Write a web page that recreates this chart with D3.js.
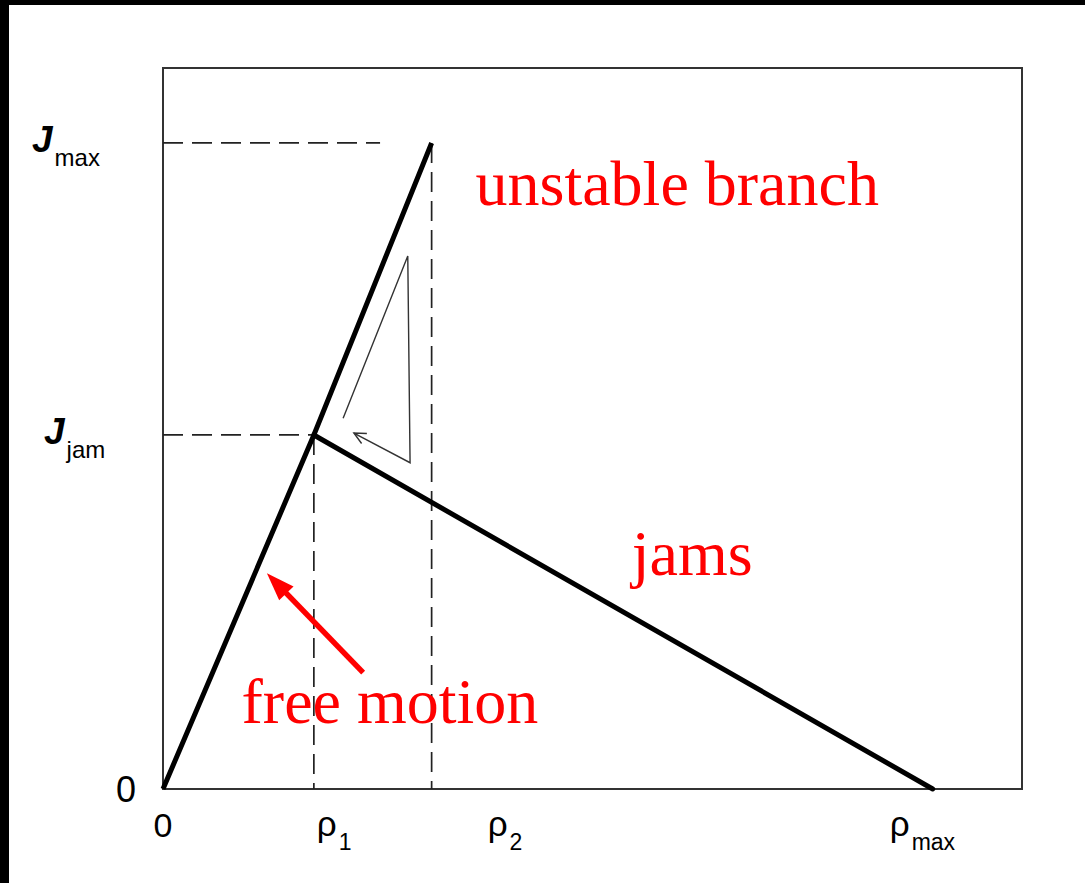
<!DOCTYPE html>
<html>
<head>
<meta charset="utf-8">
<script src="https://cdn.jsdelivr.net/npm/d3@7"></script>
<style>
  html, body { margin: 0; padding: 0; background: #fff; }
  svg { display: block; }
</style>
</head>
<body>
<svg id="chart" width="1085" height="883"></svg>
<script>
// ---- data (normalised units: density rho, flow J) ----
const rhoTicks = [0, 0.196, 0.349, 1.0];          // 0, rho1, rho2, rho_max
const rhoLabels = ["0", "ρ|1", "ρ|2", "ρ|max"];
const jTicks = [0, 0.548, 1.0];                    // 0, J_jam, J_max
const jLabels = ["0", "J|jam", "J|max"];
const freeBranch = [[0, 0], [0.196, 0.548], [0.349, 1.0]];
const jamBranch = [[0.196, 0.548], [1.0, 0]];
const hysteresis = [[0.234, 0.574], [0.318, 0.825], [0.321, 0.505], [0.248, 0.551]];
const annotations = [
  { text: "unstable branch", x: 0.406, y: 0.904 },
  { text: "jams", x: 0.609, y: 0.332 },
  { text: "free motion", x: 0.102, y: 0.102 }
];
const redArrow = [[0.260, 0.180], [0.135, 0.334]];

// layout: pixel offsets of the x labels relative to their tick position
const rhoLabelShift = [0, 3, 56, -43];

const svg = d3.select("#chart");
const W = 1085, H = 883;
const margin = { left: 163, top: 68, right: 1085 - 1022, bottom: 883 - 789 };

const x = d3.scaleLinear().domain([0, 1.116]).range([margin.left, W - margin.right]);
const y = d3.scaleLinear().domain([0, 1.116]).range([H - margin.bottom, margin.top]);

// background + black scan borders
svg.append("rect").attr("width", W).attr("height", H).attr("fill", "#fff");
svg.append("rect").attr("x", 0).attr("y", 0).attr("width", W).attr("height", 5).attr("fill", "#000");
svg.append("rect").attr("x", 0).attr("y", 0).attr("width", 9).attr("height", H).attr("fill", "#000");

// frame
svg.append("rect")
  .attr("x", x(0)).attr("y", y(1.116))
  .attr("width", x(1.116) - x(0)).attr("height", y(0) - y(1.116))
  .attr("fill", "none").attr("stroke", "#333").attr("stroke-width", 2);

// dashed guides
const dash = "20,9";
const guides = [
  [[0, jTicks[2]], [0.282, jTicks[2]]],
  [[0, jTicks[1]], [rhoTicks[1], jTicks[1]]],
  [[rhoTicks[1], jTicks[1]], [rhoTicks[1], 0]],
  [[rhoTicks[2], jTicks[2]], [rhoTicks[2], 0]]
];
const line = d3.line().x(d => x(d[0])).y(d => y(d[1]));
svg.append("g").selectAll("path").data(guides).join("path")
  .attr("d", line)
  .attr("fill", "none").attr("stroke", "#222").attr("stroke-width", 1.7)
  .attr("stroke-dasharray", dash);

// main branches
svg.append("path").datum(freeBranch).attr("d", line)
  .attr("fill", "none").attr("stroke", "#000").attr("stroke-width", 5)
  .attr("stroke-linejoin", "round");
svg.append("path").datum(jamBranch).attr("d", line)
  .attr("fill", "none").attr("stroke", "#000").attr("stroke-width", 5)
  .attr("stroke-linecap", "round");

// hysteresis loop (thin) with open arrow head
svg.append("path").datum(hysteresis).attr("d", line)
  .attr("fill", "none").attr("stroke", "#333").attr("stroke-width", 1.4);
{
  const a = hysteresis[hysteresis.length - 2], b = hysteresis[hysteresis.length - 1];
  const bx = x(b[0]), by = y(b[1]);
  const ang = Math.atan2(y(a[1]) - by, x(a[0]) - bx);
  const L = 13, spread = 0.45;
  const p1 = [bx + L * Math.cos(ang + spread), by + L * Math.sin(ang + spread)];
  const p2 = [bx + L * Math.cos(ang - spread), by + L * Math.sin(ang - spread)];
  svg.append("path")
    .attr("d", `M${p1[0]},${p1[1]}L${bx},${by}L${p2[0]},${p2[1]}`)
    .attr("fill", "none").attr("stroke", "#333").attr("stroke-width", 1.4);
}

// red arrow
{
  const a = redArrow[0], b = redArrow[1];
  const ax = x(a[0]), ay = y(a[1]), bx = x(b[0]), by = y(b[1]);
  const ang = Math.atan2(ay - by, ax - bx);
  const L = 28, hw = 10;
  const baseX = bx + L * Math.cos(ang), baseY = by + L * Math.sin(ang);
  const nx = -Math.sin(ang), ny = Math.cos(ang);
  svg.append("line")
    .attr("x1", ax).attr("y1", ay).attr("x2", baseX - 2 * Math.cos(ang)).attr("y2", baseY - 2 * Math.sin(ang))
    .attr("stroke", "#ff0000").attr("stroke-width", 5.5);
  svg.append("path")
    .attr("d", `M${bx},${by}L${baseX + hw * nx},${baseY + hw * ny}L${baseX},${baseY}L${baseX - hw * nx},${baseY - hw * ny}Z`)
    .attr("fill", "#ff0000");
}

// red annotations
svg.append("g").selectAll("text").data(annotations).join("text")
  .attr("x", d => x(d.x)).attr("y", d => y(d.y))
  .attr("font-family", "'Liberation Serif', 'Times New Roman', serif")
  .attr("font-size", 64).attr("fill", "#ff0000")
  .text(d => d.text);

// x tick labels
const sans = "'Liberation Sans', Arial, Helvetica, sans-serif";
const xl = svg.append("g").attr("font-family", sans).attr("fill", "#000");
rhoTicks.forEach((v, i) => {
  const [main, sub] = rhoLabels[i].split("|");
  if (!sub) {
    xl.append("text").attr("x", x(v)).attr("y", 837).attr("text-anchor", "middle")
      .attr("font-size", 34).text(main);
  } else {
    const t = xl.append("text").attr("x", x(v) + rhoLabelShift[i]).attr("y", 836).attr("font-size", 35);
    t.append("tspan").text(main);
    t.append("tspan").attr("font-size", 23).attr("dx", 2).attr("dy", 14).text(sub);
  }
});

// y tick labels
const yl = svg.append("g").attr("font-family", sans).attr("fill", "#000");
jTicks.forEach((v, i) => {
  const [main, sub] = jLabels[i].split("|");
  if (!sub) {
    yl.append("text").attr("x", 136).attr("y", y(v) + 13).attr("text-anchor", "end")
      .attr("font-size", 36).text(main);
  } else {
    const t = yl.append("text").attr("x", sub === "max" ? 32 : 44).attr("y", y(v) + 9);
    t.append("tspan").attr("font-size", 37).attr("font-weight", "bold").attr("font-style", "italic").text(main);
    t.append("tspan").attr("font-size", 24).attr("dx", 2).attr("dy", 14).text(sub);
  }
});
</script>
</body>
</html>
